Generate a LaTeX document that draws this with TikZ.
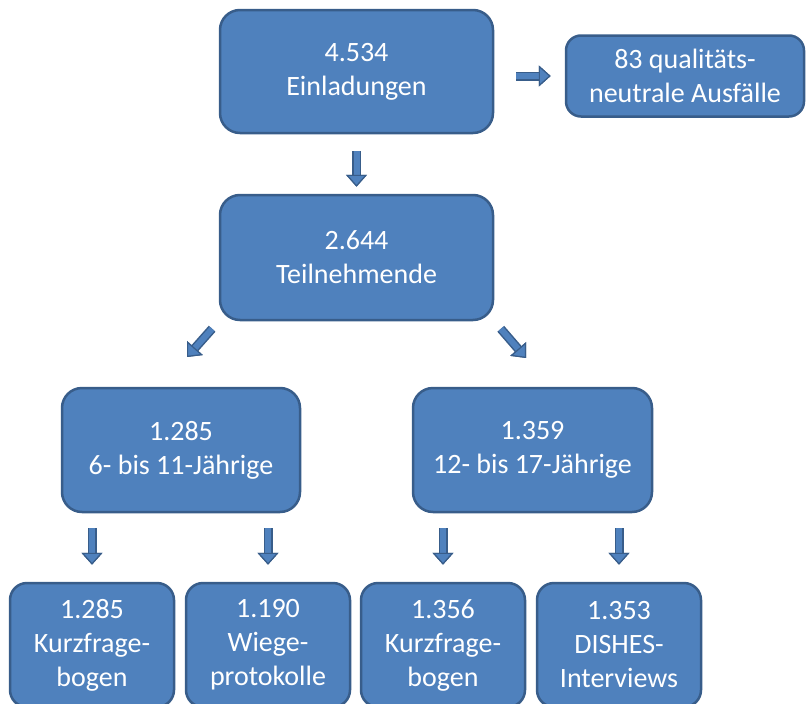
\documentclass[tikz,border=0pt]{standalone}
\usepackage{fontspec}
\setmainfont{Carlito}
\usetikzlibrary{arrows.meta}
\definecolor{boxblue}{HTML}{4F81BD}
\definecolor{boxedge}{HTML}{385D8A}
\tikzset{
  box/.style={draw=boxedge, line width=2.5pt, fill=boxblue, rounded corners=20pt, text=white, align=center, font=\fontsize{28}{34}\selectfont, inner sep=0pt},
  smallbox/.style={box, rounded corners=17pt},
  blockarrow/.style={line width=6pt, draw=boxblue, -{Triangle[length=12pt, width=21pt, line width=1.2pt, fill=boxblue, color=boxedge]},
    preaction={draw=boxedge, line width=9pt, -{Triangle[length=12pt, width=21pt, line width=1.2pt, fill=boxedge, color=boxedge]}}}
}
\begin{document}
\begin{tikzpicture}[x=1pt, y=-1pt]
\useasboundingbox (0,0) rectangle (806,704);
\clip (0,0) rectangle (806,704);

\node[box, minimum width=273pt, minimum height=123pt] (einl) at (356.5, 71.5) {4.534\\Einladungen};
\node[box, minimum width=238pt, minimum height=81pt, rounded corners=15pt] (ausf) at (685, 76) {83 qualitäts-\\neutrale Ausfälle};
\node[box, minimum width=273pt, minimum height=125pt] (teiln) at (356.5, 257.5) {2.644\\Teilnehmende};
\node[box, minimum width=238pt, minimum height=124pt] (kinder) at (181, 450) {1.285\\6- bis 11-Jährige};
\node[box, minimum width=239pt, minimum height=124pt] (jugend) at (532.5, 450) {1.359\\12- bis 17-Jährige};
\node[smallbox, minimum width=164pt, minimum height=124pt] (kfk) at (92, 645) {1.285\\Kurzfrage-\\bogen};
\node[smallbox, minimum width=164pt, minimum height=124pt] (wiege) at (268, 645) {1.190\\Wiege-\\protokolle};
\node[smallbox, minimum width=164pt, minimum height=124pt] (kfj) at (443, 645) {1.356\\Kurzfrage-\\bogen};
\node[smallbox, minimum width=164pt, minimum height=124pt] (dishes) at (619, 645) {1.353\\DISHES-\\Interviews};

\coordinate (tipL) at (187, 357);
\coordinate (tipR) at (526, 358);

% Pfeile
\path (einl) edge[blockarrow, shorten <=17pt, shorten >=7pt] (teiln);
\path (einl.east |- ausf.west) edge[blockarrow, shorten <=22pt, shorten >=14pt] (ausf.west);
\path (teiln.south west) edge[blockarrow, shorten <=10pt] (tipL);
\path (teiln.south east) edge[blockarrow, shorten <=10pt] (tipR);
\path (kinder.south -| kfk.north) edge[blockarrow, shorten <=15pt, shorten >=17pt] (kfk.north);
\path (kinder.south -| wiege.north) edge[blockarrow, shorten <=15pt, shorten >=17pt] (wiege.north);
\path (jugend.south -| kfj.north) edge[blockarrow, shorten <=15pt, shorten >=17pt] (kfj.north);
\path (jugend.south -| dishes.north) edge[blockarrow, shorten <=15pt, shorten >=17pt] (dishes.north);

\end{tikzpicture}
\end{document}
